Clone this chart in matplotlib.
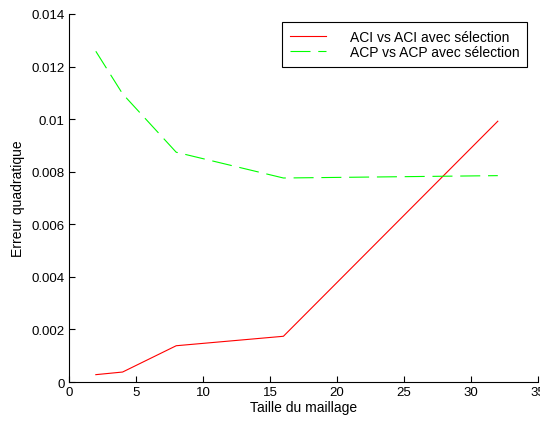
import matplotlib
matplotlib.use("Agg")
import matplotlib.pyplot as plt

# data
taille = [2, 4, 8, 16, 32]
aci = [0.00028, 0.00038, 0.00138, 0.00174, 0.00992]
acp = [0.01258, 0.01096, 0.00874, 0.00776, 0.00785]

labels = ["ACI vs ACI avec sélection", "ACP vs ACP avec sélection"]
xticks = [0, 5, 10, 15, 20, 25, 30, 35]
yticks = [0, 0.002, 0.004, 0.006, 0.008, 0.01, 0.012, 0.014]

plt.rcParams['font.family'] = ['Liberation Sans', 'DejaVu Sans']
plt.rcParams['font.size'] = 10

fig = plt.figure(figsize=(5.4, 4.27), dpi=100)
ax = fig.add_axes([0.1278, 0.103, 0.8685, 0.862])

ax.plot(taille, aci, color='#ff0000', lw=0.8, label=labels[0])
ax.plot(taille, acp, color='#00ff00', lw=0.8, dashes=(18, 7), label=labels[1])

ax.set_xlim(0, 35)
ax.set_ylim(0, 0.014)
ax.set_xticks(xticks)
ax.set_yticks(yticks)
ax.set_yticklabels(["0", "0.002", "0.004", "0.006", "0.008", "0.01", "0.012", "0.014"])
ax.tick_params(direction='in', length=4, width=0.8, pad=3, labelsize=9.5)

ax.spines['top'].set_visible(False)
ax.spines['right'].set_visible(False)
ax.spines['left'].set_linewidth(0.8)
ax.spines['bottom'].set_linewidth(0.8)

ax.set_xlabel("Taille du maillage", labelpad=1)
ax.set_ylabel("Erreur quadratique", labelpad=5)

leg = ax.legend(loc='upper right', bbox_to_anchor=(527 / 540, 1 - 23 / 427),
                bbox_transform=fig.transFigure, fancybox=False, framealpha=1,
                edgecolor='black', borderaxespad=0, borderpad=0.55,
                handlelength=2.6, handletextpad=1.7, labelspacing=0.1)
leg.get_frame().set_linewidth(0.8)

fig.savefig("out.png", dpi=100)
